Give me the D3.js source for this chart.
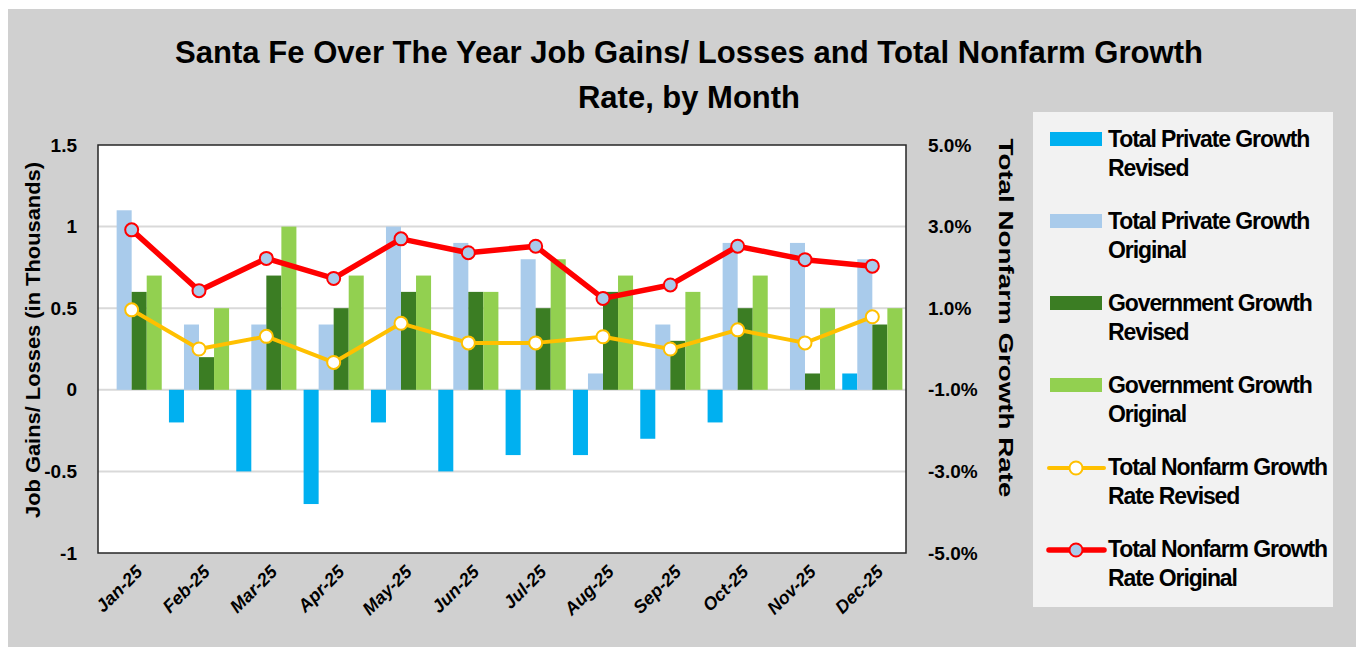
<!DOCTYPE html>
<html>
<head>
<meta charset="utf-8">
<script src="https://cdn.jsdelivr.net/npm/d3@7"></script>
<style>
  body { margin: 0; background: #fff; }
  svg { display: block; font-family: 'Liberation Sans', Arial, sans-serif; }
  .bold { font-weight: bold; fill: #000; }
</style>
</head>
<body>
<svg id="chart" width="1356" height="647"></svg>
<script>
const months = ['Jan-25', 'Feb-25', 'Mar-25', 'Apr-25', 'May-25', 'Jun-25',
  'Jul-25', 'Aug-25', 'Sep-25', 'Oct-25', 'Nov-25', 'Dec-25'];

// job gains / losses in thousands (left axis)
const privateRevised = [0, -0.2, -0.5, -0.7, -0.2, -0.5, -0.4, -0.4, -0.3, -0.2, 0, 0.1];
const privateOriginal = [1.1, 0.4, 0.4, 0.4, 1.0, 0.9, 0.8, 0.1, 0.4, 0.9, 0.9, 0.8];
const govRevised = [0.6, 0.2, 0.7, 0.5, 0.6, 0.6, 0.5, 0.6, 0.3, 0.5, 0.1, 0.4];
const govOriginal = [0.7, 0.5, 1.0, 0.7, 0.7, 0.6, 0.8, 0.7, 0.6, 0.7, 0.5, 0.5];

// total nonfarm growth rate in % (right axis)
const rateRevised = [0.96, 0.0, 0.31, -0.33, 0.63, 0.15, 0.15, 0.30, 0.0, 0.47, 0.15, 0.79];
const rateOriginal = [2.92, 1.43, 2.22, 1.73, 2.70, 2.36, 2.52, 1.24, 1.57, 2.52, 2.19, 2.03];

const leftTicks = [1.5, 1, 0.5, 0, -0.5, -1];
const rightTicks = [5, 3, 1, -1, -3, -5];

const barSeries = [
  { name: 'Total Private Growth Revised', values: privateRevised, color: '#00b0f0' },
  { name: 'Total Private Growth Original', values: privateOriginal, color: '#a9cbeb' },
  { name: 'Government Growth Revised', values: govRevised, color: '#3b7d23' },
  { name: 'Government Growth Original', values: govOriginal, color: '#92d050' }
];
const lineSeries = [
  { name: 'Total Nonfarm Growth Rate Revised', values: rateRevised, color: '#ffc000', fill: '#ffffff', width: 4 },
  { name: 'Total Nonfarm Growth Rate Original', values: rateOriginal, color: '#ff0000', fill: '#a9cbeb', width: 5.5 }
];
const legendLines = [
  ['Total Private Growth', 'Revised'],
  ['Total Private Growth', 'Original'],
  ['Government Growth', 'Revised'],
  ['Government Growth', 'Original'],
  ['Total Nonfarm Growth', 'Rate Revised'],
  ['Total Nonfarm Growth', 'Rate Original']
];

const svg = d3.select('#chart');
const plot = { left: 98, right: 906, top: 145, bottom: 553 };

// background
svg.append('rect').attr('x', 8).attr('y', 9).attr('width', 1348).attr('height', 638).attr('fill', '#d0d0d0');

// title
const title = svg.append('g').attr('class', 'bold').attr('font-size', 32);
title.append('text').attr('x', 689).attr('y', 63).attr('text-anchor', 'middle')
  .attr('textLength', 1028).attr('lengthAdjust', 'spacingAndGlyphs')
  .text('Santa Fe Over The Year Job Gains/ Losses and Total Nonfarm Growth');
title.append('text').attr('x', 689).attr('y', 108).attr('text-anchor', 'middle')
  .attr('textLength', 222).attr('lengthAdjust', 'spacingAndGlyphs')
  .text('Rate, by Month');

// scales
const x0 = d3.scaleBand().domain(months).range([plot.left, plot.right])
  .paddingInner(0.107).paddingOuter(0.0536);
const x1 = d3.scaleBand().domain(barSeries.map(s => s.name)).range([0, x0.bandwidth()]);
const y = d3.scaleLinear().domain([-1, 1.5]).range([plot.bottom, plot.top]);
const y2 = d3.scaleLinear().domain([-5, 5]).range([plot.bottom, plot.top]);
const cx = m => x0(m) + x0.bandwidth() / 2;

// plot area
svg.append('rect').attr('x', plot.left).attr('y', plot.top)
  .attr('width', plot.right - plot.left).attr('height', plot.bottom - plot.top)
  .attr('fill', '#fff');

// gridlines
svg.append('g').selectAll('line')
  .data(leftTicks.filter(t => t < 1.5 && t > -1))
  .join('line')
  .attr('x1', plot.left).attr('x2', plot.right)
  .attr('y1', d => y(d)).attr('y2', d => y(d))
  .attr('stroke', '#d9d9d9').attr('stroke-width', 2);

// bars
barSeries.forEach(s => {
  svg.append('g').selectAll('rect')
    .data(months.map((m, i) => ({ m, v: s.values[i] })).filter(d => d.v !== 0))
    .join('rect')
    .attr('x', d => x0(d.m) + x1(s.name))
    .attr('width', x1.bandwidth())
    .attr('y', d => y(Math.max(0, d.v)))
    .attr('height', d => Math.abs(y(d.v) - y(0)))
    .attr('fill', s.color);
});

// lines
lineSeries.forEach(s => {
  const data = months.map((m, i) => ({ m, v: s.values[i] }));
  svg.append('path').datum(data)
    .attr('fill', 'none').attr('stroke', s.color).attr('stroke-width', s.width)
    .attr('stroke-linejoin', 'round')
    .attr('d', d3.line().x(d => cx(d.m)).y(d => y2(d.v)));
  svg.append('g').selectAll('circle').data(data).join('circle')
    .attr('cx', d => cx(d.m)).attr('cy', d => y2(d.v)).attr('r', 6.5)
    .attr('fill', s.fill).attr('stroke', s.color).attr('stroke-width', 2);
});

// plot border
svg.append('rect').attr('x', plot.left).attr('y', plot.top)
  .attr('width', plot.right - plot.left).attr('height', plot.bottom - plot.top)
  .attr('fill', 'none').attr('stroke', '#262626').attr('stroke-width', 1.5);

// left axis
const leftAxis = svg.append('g').attr('transform', `translate(${plot.left},0)`)
  .call(d3.axisLeft(y).tickValues(leftTicks).tickSize(0).tickPadding(21).tickFormat(d => String(d)));
leftAxis.select('.domain').remove();
leftAxis.selectAll('text').attr('class', 'bold').attr('font-size', 19)
  .attr('font-family', "'Liberation Sans', Arial, sans-serif");

// right axis
const rightAxis = svg.append('g').attr('transform', `translate(${plot.right},0)`)
  .call(d3.axisRight(y2).tickValues(rightTicks).tickSize(0).tickPadding(22).tickFormat(d => d.toFixed(1) + '%'));
rightAxis.select('.domain').remove();
rightAxis.selectAll('text').attr('class', 'bold').attr('font-size', 19)
  .attr('font-family', "'Liberation Sans', Arial, sans-serif");

// x labels
svg.append('g').selectAll('text').data(months).join('text')
  .attr('class', 'bold')
  .attr('font-size', 18).attr('font-style', 'italic')
  .attr('text-anchor', 'end')
  .attr('transform', d => `translate(${cx(d) + 12},${plot.bottom + 20}) rotate(-45)`)
  .text(d => d);

// axis titles
svg.append('text').attr('class', 'bold').attr('font-size', 21)
  .attr('text-anchor', 'middle')
  .attr('transform', 'translate(40,340) rotate(-90)')
  .attr('textLength', 356).attr('lengthAdjust', 'spacingAndGlyphs')
  .text('Job Gains/ Losses (in Thousands)');
svg.append('text').attr('class', 'bold').attr('font-size', 21)
  .attr('text-anchor', 'middle')
  .attr('transform', 'translate(999,318) rotate(90)')
  .attr('textLength', 359).attr('lengthAdjust', 'spacingAndGlyphs')
  .text('Total Nonfarm Growth Rate');

// legend
svg.append('rect').attr('x', 1033).attr('y', 112).attr('width', 300).attr('height', 495)
  .attr('fill', '#f2f2f2');
const legend = svg.append('g');
legendLines.forEach((lines, i) => {
  const top = 123 + i * 82;
  const g = legend.append('g').attr('transform', `translate(0,${top})`);
  if (i < 4) {
    g.append('rect').attr('x', 1050).attr('y', 9).attr('width', 52).attr('height', 14)
      .attr('fill', barSeries[i].color);
  } else {
    const s = lineSeries[i - 4];
    g.append('line').attr('x1', 1049).attr('x2', 1104).attr('y1', 17).attr('y2', 17)
      .attr('stroke', s.color).attr('stroke-width', s.width).attr('stroke-linecap', 'round');
    g.append('circle').attr('cx', 1076).attr('cy', 17).attr('r', 6.5)
      .attr('fill', s.fill).attr('stroke', s.color).attr('stroke-width', 2);
  }
  lines.forEach((t, j) => {
    g.append('text').attr('class', 'bold').attr('font-size', 23)
      .attr('letter-spacing', -1.1)
      .attr('x', 1108).attr('y', 24 + j * 29).text(t);
  });
});
</script>
</body>
</html>
